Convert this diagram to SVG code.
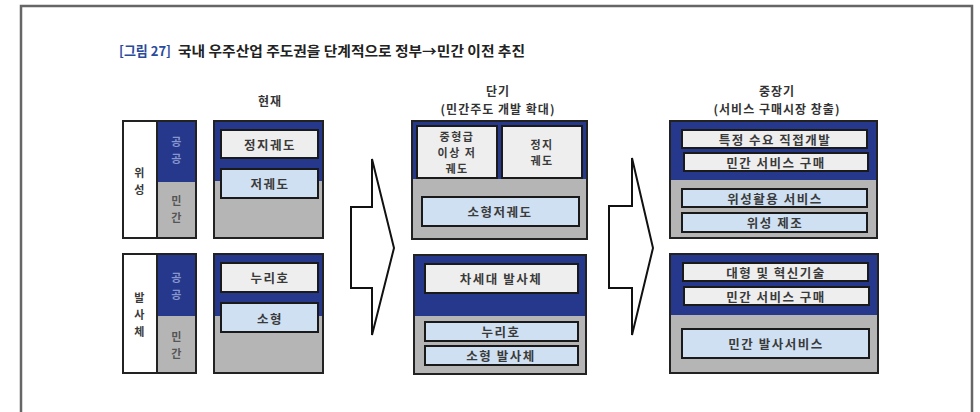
<svg xmlns="http://www.w3.org/2000/svg" width="980" height="412" viewBox="0 0 980 412">
<defs>
<style>
.t{font-family:"Noto Sans CJK KR","Noto Sans",sans-serif;font-size:12.5px;fill:#3a3a3a;text-anchor:middle;dominant-baseline:central;letter-spacing:1.5px;font-weight:bold}
.s{font-size:11px}
.h{font-family:"Noto Sans CJK KR","Noto Sans",sans-serif;font-size:12px;fill:#333;text-anchor:middle;dominant-baseline:central;letter-spacing:1px;font-weight:bold}
.pub{fill:#8796cf}
.pri{fill:#555}
.blue{fill:#25388c}
.gray{fill:#b5b5b5}
.frame{fill:none;stroke:#222;stroke-width:2}
.lg{fill:#eeeeee;stroke:#1a1a1a;stroke-width:2}
.lb{fill:#cfe0f2;stroke:#1a1a1a;stroke-width:2}
.arr{fill:#fff;stroke:#111;stroke-width:2;stroke-linejoin:miter}
</style>
</defs>
<rect width="980" height="412" fill="#fff"/>
<path d="M21,414 V6 H972 V414" fill="none" stroke="#666" stroke-width="2.5"/>
<g id="title">
<text x="119" y="50" font-family="'Noto Sans CJK KR',sans-serif" font-size="13.5" font-weight="bold" fill="#2a4a9c" dominant-baseline="central" textLength="52" lengthAdjust="spacingAndGlyphs">[그림 27]</text>
<text x="178" y="50" font-family="'Noto Sans CJK KR',sans-serif" font-size="13.5" font-weight="bold" fill="#222" dominant-baseline="central" textLength="347" lengthAdjust="spacingAndGlyphs">국내 우주산업 주도권을 단계적으로 정부→민간 이전 추진</text>
</g>
<g id="headers">
<text class="h" x="270" y="100">현재</text>
<text class="h" x="498" y="90.5">단기</text>
<text class="h" x="498" y="108.5">(민간주도 개발 확대)</text>
<text class="h" x="777" y="90.5">중장기</text>
<text class="h" x="777" y="108.5">(서비스 구매시장 창출)</text>
</g>
<g id="sat-label">
<rect x="123" y="121" width="34" height="117" fill="#fff"/>
<rect class="blue" x="157" y="121" width="39" height="61"/>
<rect class="gray" x="157" y="182" width="39" height="56"/>
<rect class="frame" x="123" y="121" width="73" height="117"/>
<line x1="157" y1="121" x2="157" y2="238" stroke="#222" stroke-width="2"/>
<text class="t s" x="140" y="172">위</text>
<text class="t s" x="140" y="189">성</text>
<text class="t s pub" x="177" y="141">공</text>
<text class="t s pub" x="177" y="158">공</text>
<text class="t s pri" x="177" y="200">민</text>
<text class="t s pri" x="177" y="217">간</text>
</g>
<g id="sat-now">
<rect class="blue" x="214" y="121" width="109" height="60"/>
<rect class="gray" x="214" y="181" width="109" height="57"/>
<rect class="frame" x="214" y="121" width="109" height="117"/>
<rect class="lg" x="221" y="130" width="97" height="28"/>
<text class="t" x="270" y="144">정지궤도</text>
<rect class="lb" x="221" y="169" width="97" height="29"/>
<text class="t" x="270" y="183">저궤도</text>
</g>
<g id="lv-label">
<rect x="123" y="254" width="34" height="119" fill="#fff"/>
<rect class="blue" x="157" y="254" width="39" height="62"/>
<rect class="gray" x="157" y="316" width="39" height="57"/>
<rect class="frame" x="123" y="254" width="73" height="119"/>
<line x1="157" y1="254" x2="157" y2="373" stroke="#222" stroke-width="2"/>
<text class="t s" x="140" y="297">발</text>
<text class="t s" x="140" y="314">사</text>
<text class="t s" x="140" y="331">체</text>
<text class="t s pub" x="177" y="277">공</text>
<text class="t s pub" x="177" y="294">공</text>
<text class="t s pri" x="177" y="336">민</text>
<text class="t s pri" x="177" y="353">간</text>
</g>
<g id="lv-now">
<rect class="blue" x="214" y="254" width="109" height="62"/>
<rect class="gray" x="214" y="316" width="109" height="57"/>
<rect class="frame" x="214" y="254" width="109" height="119"/>
<rect class="lg" x="221" y="263" width="97" height="29"/>
<text class="t" x="270" y="277">누리호</text>
<rect class="lb" x="221" y="303" width="97" height="29"/>
<text class="t" x="270" y="318">소형</text>
</g>
<g id="sat-short">
<rect class="blue" x="412" y="121" width="175" height="58"/>
<rect class="gray" x="412" y="179" width="175" height="60"/>
<rect class="frame" x="412" y="121" width="175" height="118"/>
<rect class="lg" x="417" y="126" width="80" height="52"/>
<text class="t s" x="457" y="136">중형급</text>
<text class="t s" x="457" y="152">이상 저</text>
<text class="t s" x="457" y="168">궤도</text>
<rect class="lg" x="502" y="126" width="80" height="52"/>
<text class="t s" x="542" y="144">정지</text>
<text class="t s" x="542" y="160">궤도</text>
<rect class="lb" x="422" y="197" width="157" height="29"/>
<text class="t" x="500" y="211">소형저궤도</text>
</g>
<g id="lv-short">
<rect class="blue" x="414" y="255" width="172" height="61"/>
<rect class="gray" x="414" y="316" width="172" height="58"/>
<rect class="frame" x="414" y="255" width="172" height="119"/>
<rect class="lg" x="425" y="264" width="153" height="29"/>
<text class="t" x="501" y="278">차세대 발사체</text>
<rect class="lb" x="425" y="322" width="153" height="19"/>
<text class="t" x="501" y="331">누리호</text>
<rect class="lb" x="425" y="346" width="153" height="19"/>
<text class="t" x="501" y="355">소형 발사체</text>
</g>
<g id="sat-long">
<rect class="blue" x="670" y="121" width="207" height="59"/>
<rect class="gray" x="670" y="180" width="207" height="58"/>
<rect class="frame" x="670" y="121" width="207" height="117"/>
<rect class="lg" x="682" y="130" width="185" height="18"/>
<text class="t" x="775" y="139">특정 수요 직접개발</text>
<rect class="lg" x="684" y="153" width="184" height="18"/>
<text class="t" x="776" y="162">민간 서비스 구매</text>
<rect class="lb" x="682" y="189" width="185" height="18"/>
<text class="t" x="775" y="198">위성활용 서비스</text>
<rect class="lb" x="682" y="213" width="185" height="19"/>
<text class="t" x="775" y="222">위성 제조</text>
</g>
<g id="lv-long">
<rect class="blue" x="670" y="254" width="208" height="61"/>
<rect class="gray" x="670" y="315" width="208" height="58"/>
<rect class="frame" x="670" y="254" width="208" height="119"/>
<rect class="lg" x="683" y="263" width="185" height="18"/>
<text class="t" x="776" y="272">대형 및 혁신기술</text>
<rect class="lg" x="684" y="287" width="185" height="18"/>
<text class="t" x="776" y="296">민간 서비스 구매</text>
<rect class="lb" x="682" y="329" width="187" height="29"/>
<text class="t" x="776" y="343">민간 발사서비스</text>
</g>
<g id="connectors">
<path class="arr" d="M351,207 H372 V159 L394,248 L372,335 V288 H351 Z"/>
<path class="arr" d="M609,206 H632 V158 L653,248 L632,335 V288 H609 Z"/>
</g>
</svg>
